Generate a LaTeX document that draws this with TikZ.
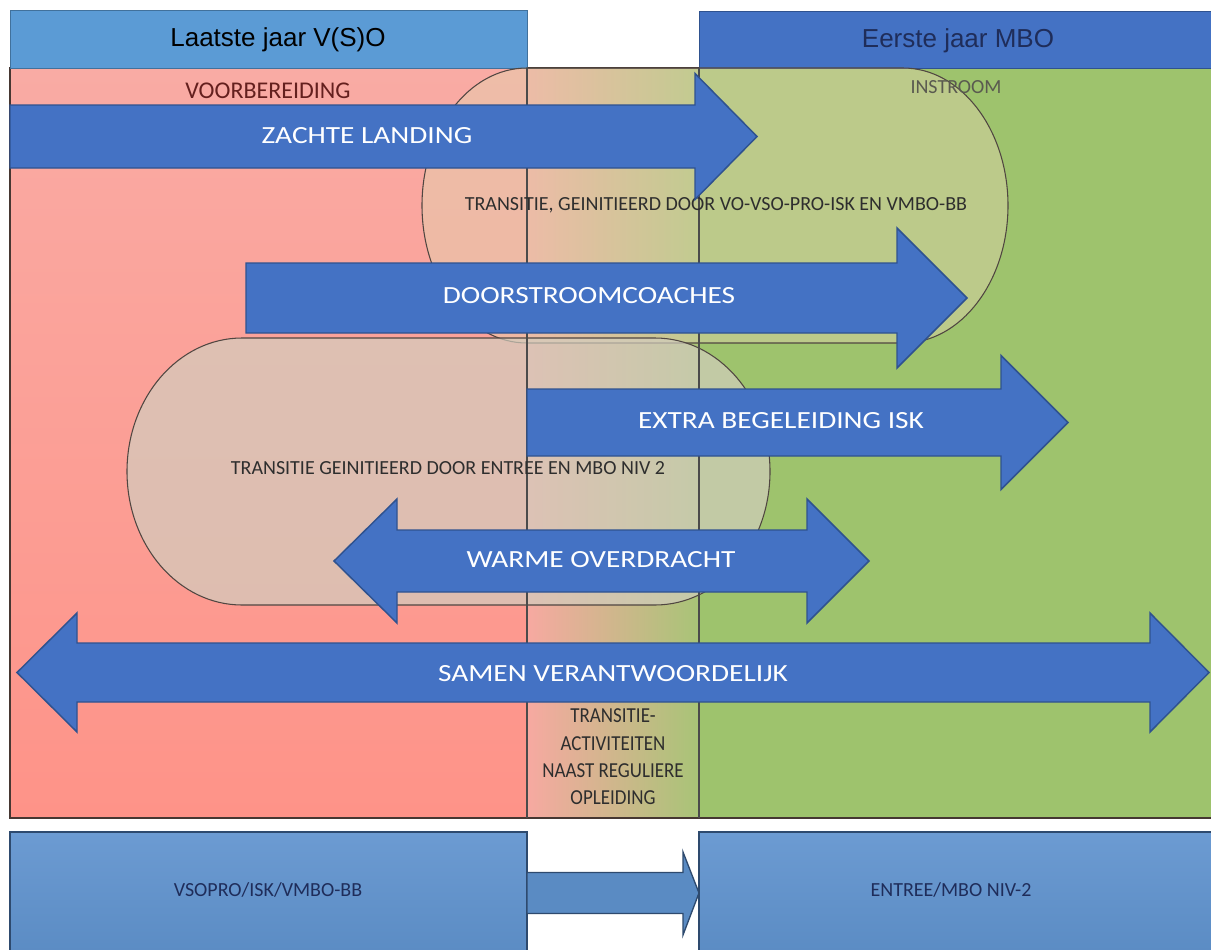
\documentclass[tikz,border=0pt]{standalone}
\usepackage{fontspec}
\setmainfont{Carlito}
\newfontfamily\widef[FakeStretch=1.19]{Carlito}
\newfontfamily\condf[FakeStretch=0.89]{Carlito}
\newfontfamily\hdrf{Liberation Sans}
\definecolor{pinkT}{HTML}{F9ABA4}
\definecolor{pinkB}{HTML}{FE9388}
\definecolor{grn}{HTML}{9EC36D}
\definecolor{midL}{HTML}{F7A9A1}
\definecolor{midM}{HTML}{DDB896}
\definecolor{midR}{HTML}{A8C477}
\definecolor{arrowfill}{HTML}{4472C4}
\definecolor{arrowline}{HTML}{2F528F}
\definecolor{hdrL}{HTML}{5B9BD5}
\definecolor{hdrLline}{HTML}{41719C}
\definecolor{navy}{HTML}{1F2D5A}
\definecolor{boxT}{HTML}{6C9BD2}
\definecolor{boxB}{HTML}{5A8BC3}
\definecolor{boxline}{HTML}{2E4A6E}
\definecolor{capA}{RGB}{225,212,175}
\definecolor{capB}{RGB}{210,205,190}
\definecolor{darkred}{RGB}{100,32,30}
\definecolor{txtgray}{HTML}{2E2E2E}
\tikzset{
  barrow/.style={fill=arrowfill, draw=arrowline, line width=1.1pt, line join=miter},
  arrowtxt/.style={text=white, font=\widef\fontsize{18.5pt}{22pt}\selectfont, inner sep=0pt},
  captxt/.style={text=txtgray, font=\fontsize{15pt}{18pt}\selectfont, inner sep=0pt},
  capsule/.style={draw={rgb,255:red,80;green,70;blue,65}, line width=0.8pt},
  divline/.style={draw={rgb,255:red,75;green,75;blue,75}, line width=0.8pt},
  boxtxt/.style={text=navy, font=\fontsize{15pt}{18pt}\selectfont, inner sep=0pt},
}
\newcommand\blockR[6]{% x0, base, tip, yc, half shaft, half head
  \draw[barrow] (#1,{#4-#5}) -- (#2,{#4-#5}) -- (#2,{#4-#6}) -- (#3,#4) -- (#2,{#4+#6}) -- (#2,{#4+#5}) -- (#1,{#4+#5}) -- cycle;}
\newcommand\blockLR[7]{% tipL, baseL, baseR, tipR, yc, half shaft, half head
  \draw[barrow] (#1,#5) -- (#2,{#5-#7}) -- (#2,{#5-#6}) -- (#3,{#5-#6}) -- (#3,{#5-#7}) -- (#4,#5) -- (#3,{#5+#7}) -- (#3,{#5+#6}) -- (#2,{#5+#6}) -- (#2,{#5+#7}) -- cycle;}
\begin{document}
\begin{tikzpicture}[x=0.75pt,y=-0.75pt]
\useasboundingbox (0,0) rectangle (1211,950);
\clip (0,0) rectangle (1211,950);
\fill[white] (0,0) rectangle (1211,950);

% background regions
\shade[top color=pinkT, bottom color=pinkB] (10,68) rectangle (527,818);
\shade[left color=midL, middle color=midM, right color=midR] (527,68) rectangle (699,818);
\fill[grn] (699,68) rectangle (1215,818);
\draw[draw={rgb,255:red,70;green,55;blue,50}, line width=0.8pt] (1215,68) -- (10,68) -- (10,818) -- (1215,818);

% header boxes
\node[draw=hdrLline, fill=hdrL, line width=0.8pt, minimum width=517*0.75pt, minimum height=58*0.75pt, anchor=north west, inner sep=0pt] (hdrleft) at (10,10) {};
\node[font=\hdrf\fontsize{19.5pt}{22pt}\selectfont, text=black] (hdrlefttxt) at (278,40) {Laatste jaar V(S)O};
\node[draw=arrowline, fill=arrowfill, line width=0.8pt, minimum width=520*0.75pt, minimum height=57*0.75pt, anchor=north west, inner sep=0pt] (hdrright) at (699,11) {};
\node[font=\hdrf\fontsize{19.5pt}{22pt}\selectfont, text=navy] (hdrrighttxt) at (958,41) {Eerste jaar MBO};

% capsules
\draw[capsule, fill=capA, fill opacity=0.45] (527,68) -- (903,68) arc[start angle=-90, end angle=90, x radius=105, y radius=137.5] -- (527,343) arc[start angle=90, end angle=270, x radius=105, y radius=137.5] -- cycle;
\draw[capsule, fill=capB, fill opacity=0.7] (242,338) -- (655,338) arc[start angle=-90, end angle=90, x radius=115, y radius=133.5] -- (242,605) arc[start angle=90, end angle=270, x radius=115, y radius=133.5] -- cycle;

% dividing lines
\draw[divline] (527,68) -- (527,818);
\draw[divline] (699,68) -- (699,818);

% phase labels
\node[text=darkred, font=\fontsize{18pt}{20pt}\selectfont, inner sep=0pt] (voorb) at (268,91) {VOORBEREIDING};
\node[text={rgb,255:red,90;green,90;blue,80}, font=\fontsize{15pt}{18pt}\selectfont, inner sep=0pt] (instroom) at (956,87) {INSTROOM};
\node[captxt] (capupper) at (716,205) {TRANSITIE, GEINITIEERD DOOR VO-VSO-PRO-ISK EN VMBO-BB};
\node[captxt] (caplower) at (448,468) {TRANSITIE GEINITIEERD DOOR ENTREE EN MBO NIV 2};
\node[text=txtgray, font=\condf\fontsize{16pt}{20.5pt}\selectfont, align=center, inner sep=0pt] (midtxt) at (613,757) {TRANSITIE-\\ACTIVITEITEN\\NAAST REGULIERE\\OPLEIDING};

% block arrows
\blockR{10}{695}{757}{136.5}{31.5}{63}
\blockR{246}{897}{967}{298}{35}{70}
\blockR{527}{1001}{1068}{422.5}{33.5}{67}
\blockLR{334}{397}{807}{869}{561}{31}{62}
\blockLR{17}{77}{1150}{1209}{672.5}{29.5}{59.5}
\node[arrowtxt] (zachte) at (367,136) {ZACHTE LANDING};
\node[arrowtxt] (doorstroom) at (589,296) {DOORSTROOMCOACHES};
\node[arrowtxt] (extra) at (781,421) {EXTRA BEGELEIDING ISK};
\node[arrowtxt] (warme) at (601,560) {WARME OVERDRACHT};
\node[arrowtxt] (samen) at (613,674) {SAMEN VERANTWOORDELIJK};

% bottom boxes
\shade[top color=boxT, bottom color=boxB, draw=boxline, line width=0.8pt] (10,832) rectangle (527,960);
\shade[top color=boxT, bottom color=boxB, draw=boxline, line width=0.8pt] (699,832) rectangle (1220,960);
\node[boxtxt] (vso) at (268,890) {VSOPRO/ISK/VMBO-BB};
\node[boxtxt] (entree) at (951,890) {ENTREE/MBO NIV-2};
\draw[fill=boxB, draw=boxline, line width=1pt] (527,872.5) -- (683,872.5) -- (683,852) -- (699,893) -- (683,935) -- (683,913.5) -- (527,913.5) -- cycle;
\end{tikzpicture}
\end{document}
